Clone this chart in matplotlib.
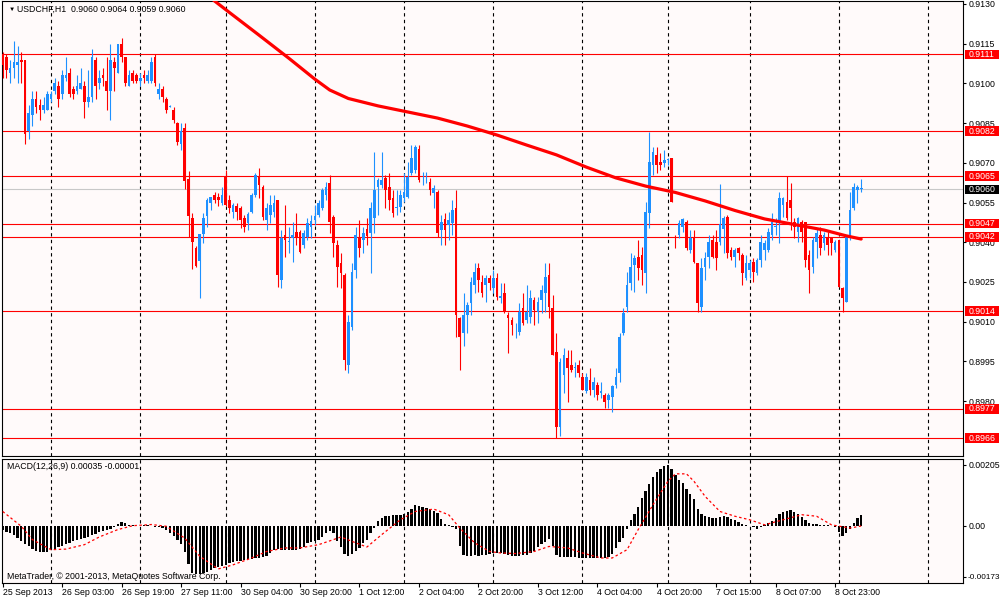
import numpy as np
import matplotlib.pyplot as plt
from matplotlib.patches import Rectangle
from matplotlib.transforms import blended_transform_factory

plt.rcParams['font.family'] = ['Liberation Sans', 'DejaVu Sans']

# hourly bars, index 0 = 26 Sep 2013 00:00; first visible bar is index -13
first_bar = -13

# prices in pips (0.9111 -> 9111)
opens = [
    9111, 9110, 9104, 9106, 9107, 9109, 9109, 9082, 9088, 9094, 9092, 9090, 9090,
    9094, 9097, 9099, 9096, 9102, 9104, 9098, 9097, 9098, 9099, 9093, 9095, 9109, 9100, 9103, 9101, 9097, 9108, 9104, 9115, 9110, 9099, 9104, 9103,
    9101, 9103, 9101, 9101, 9110, 9096, 9098, 9094, 9091, 9090, 9085, 9077, 9083, 9064, 9049, 9038, 9033, 9043, 9050, 9055, 9058, 9057, 9054.7,
    9065, 9056, 9051.5, 9053.5, 9052.8, 9049, 9047.2, 9051.5, 9057.8, 9065, 9061, 9048.4, 9050.3, 9051.5, 9056, 9025.7, 9042.7, 9040, 9041.5, 9044, 9044, 9039, 9042, 9045.6,
    9048.4, 9050.3, 9052.8, 9057.8, 9062.3, 9049.7, 9039, 9032, 9027.6, 8993.6, 9008.1, 9029.5, 9042.1, 9040.9, 9044.9, 9043.4, 9049, 9061, 9061.5, 9064.1, 9061, 9056.6, 9053, 9053.4,
    9056.6, 9057.2, 9066, 9067.3, 9075.1, 9064.5, 9064.1, 9062.9, 9058.5, 9059.1, 9044.6, 9048.6, 9046.5, 9047.2, 9052.8, 9011.3, 9005.6, 9012.5, 9016.9, 9023.8, 9030.1, 9025.1, 9023.8, 9026.4,
    9022.6, 9026.4, 9018.8, 9020.7, 9012.5, 9010.6, 9007.4, 9006.2, 9015, 9010.6, 9011.9, 9018.2, 9013.8, 9018.2, 9020.7, 9027.6, 9015, 8998.7, 8970.3, 8990, 8996.2, 8993.6, 8992.4, 8993.6,
    8989.2, 8983.6, 8988, 8984.2, 8986.1, 8983.2, 8982.3, 8980.4, 8981.7, 8986.1, 8990.5, 9005.6, 9015.7, 9024.5, 9031.4, 9034.6, 9035.2, 9028.3, 9051, 9069.2, 9073, 9070.4, 9069.8,
    9071, 9071.7, 9042.1, 9042.7, 9045.9, 9047.8, 9037.1, 9041.5, 9032, 9015.7, 9030.8, 9034.6, 9040.9, 9040.2, 9040, 9045, 9049.6, 9037, 9034.6, 9037.7, 9035.2, 9026.4,
    9029.5, 9032.7, 9028.3, 9033.3, 9037.1, 9037.1, 9042.7, 9045.6, 9047.8, 9054.1, 9055.3, 9055.9, 9047.8, 9044, 9047.8, 9047.8, 9035.2, 9030.8, 9040.2, 9042.7, 9039.6, 9041.5, 9041.5, 9037.1,
    9040.9, 9022.6, 9017.6, 9042.1, 9052.8, 9059.7, 9060,
]
highs = [
    9112, 9111, 9109, 9116, 9114, 9112, 9109, 9092, 9097, 9097, 9094, 9095, 9097,
    9097, 9102, 9101, 9105, 9110, 9106, 9099, 9103, 9106, 9101, 9105, 9113, 9110, 9105, 9106, 9110, 9115, 9110, 9115, 9117, 9110, 9105, 9105, 9104,
    9104, 9105, 9105, 9110, 9111, 9100, 9099, 9095, 9092, 9091, 9085.5, 9085, 9085, 9067, 9051, 9038.5, 9043, 9051, 9056.6, 9057.2, 9059, 9058.5, 9061,
    9067.3, 9057.8, 9054.7, 9054.7, 9053.5, 9050.3, 9051.5, 9058.5, 9066, 9068, 9061.6, 9054.7, 9057.8, 9057.8, 9056, 9044.6, 9054.1, 9045.9, 9047.8, 9051, 9044.6, 9044.6, 9049, 9050.3,
    9054, 9056, 9060.4, 9062.9, 9065.4, 9050.3, 9040.9, 9035.8, 9028.3, 9012.5, 9032, 9045.9, 9048.4, 9045.9, 9049, 9055.3, 9074.2, 9064.1, 9074.2, 9065.4, 9066, 9059.7, 9059.7, 9059.7,
    9066, 9070.4, 9076.7, 9076.7, 9076.7, 9066.7, 9066.7, 9064.1, 9061.6, 9059.7, 9050.3, 9050.9, 9051.5, 9056, 9059.7, 9011.9, 9020.7, 9017.6, 9027, 9032, 9032, 9027.6, 9027.6, 9027.6,
    9029.5, 9028.3, 9024.5, 9024.5, 9013.8, 9011.9, 9009.4, 9016.9, 9020.7, 9023.8, 9022, 9019.4, 9019.4, 9023.8, 9032, 9032, 9020.1, 9005.6, 8996.2, 9000, 8999.3, 8999.3, 8994.9, 8995.5,
    8990.5, 8990.5, 8992.4, 8989.2, 8987.3, 8987.3, 8982.9, 8982.9, 8986.1, 8992.4, 9005.6, 9015, 9028.9, 9035.8, 9035.2, 9040.9, 9038.3, 9055.3, 9081.8, 9076.1, 9076.1, 9073.6, 9074.8,
    9072, 9071.7, 9042.7, 9048.4, 9049, 9048.4, 9044.6, 9044.6, 9032, 9033.9, 9036.4, 9042.7, 9042.7, 9044.6, 9062, 9050, 9050.3, 9038.3, 9037.7, 9038.3, 9035.8, 9035.2,
    9033.3, 9033.9, 9033.9, 9042.7, 9040.9, 9045.3, 9050.9, 9049, 9059.1, 9057.2, 9065, 9062.3, 9049, 9049.6, 9048.4, 9047.8, 9037, 9042.1, 9045.3, 9045.9, 9044, 9044, 9042.1, 9040.9,
    9040.9, 9023.2, 9042.7, 9059.1, 9062.3, 9061.6, 9064,
]
lows = [
    9102, 9102, 9100, 9102, 9100, 9100, 9077, 9079, 9084, 9089, 9086, 9089, 9090,
    9093, 9096, 9091, 9094, 9101, 9095, 9094, 9096, 9098, 9087, 9091, 9093, 9094, 9098, 9099, 9090, 9086, 9097, 9104, 9108, 9099, 9099, 9100, 9100,
    9099, 9100, 9100, 9100, 9099, 9094, 9093, 9089, 9091, 9085, 9076.7, 9075, 9060, 9042, 9030, 9030.8, 9019, 9039.6, 9045.9, 9052.2, 9054.7, 9053.5, 9054,
    9053.5, 9050.9, 9049, 9048.4, 9045.3, 9044, 9044.6, 9051, 9057.2, 9056.6, 9048.4, 9044.6, 9047.2, 9049.7, 9023.2, 9022.6, 9034.6, 9035.8, 9032.7, 9039, 9036, 9037.7, 9041, 9041.5,
    9046.5, 9049.4, 9052.2, 9056, 9043.4, 9034.6, 9023.2, 9022.6, 8991.8, 8990.5, 9006.9, 9026.4, 9034.6, 9035.8, 9039, 9028.3, 9043.4, 9050.3, 9060.4, 9052.8, 9052.2, 9049.4, 9050.3, 9051.5,
    9055.3, 9056.6, 9065.4, 9066, 9062.9, 9061.6, 9062.3, 9057.8, 9052.8, 9042.1, 9039, 9039, 9040.9, 9042.7, 9004.3, 8991.8, 9000.6, 9005.6, 9012.5, 9020.7, 9021.3, 9019.4, 9017.6, 9022,
    9020.7, 9018.2, 9016.9, 9013.1, 8998.1, 9005, 9003.7, 9005, 9008.7, 9009.4, 9009.4, 9008.7, 9009.4, 9013.1, 9013.8, 9011.3, 8997.4, 8966, 8966.6, 8982.9, 8979.8, 8991.1, 8989.2, 8989.2,
    8984, 8983, 8982.3, 8981.7, 8980.4, 8981, 8977.3, 8977.3, 8976, 8984.8, 8987.3, 9005, 9013.8, 9022, 9021.3, 9025.7, 9023.8, 9020.7, 9045.3, 9065.4, 9066, 9067.3, 9068.6,
    9069, 9055.3, 9037.7, 9041.5, 9044, 9037.1, 9035.8, 9032, 9013.8, 9013.8, 9025.7, 9030.1, 9033.9, 9029.5, 9039, 9036, 9034, 9033.3, 9030.8, 9033.3, 9023.8, 9025.7,
    9026.4, 9025.1, 9027.6, 9030.8, 9033.3, 9036.4, 9040.9, 9042.7, 9039.6, 9049.7, 9048.4, 9044.6, 9041.5, 9040.2, 9040.2, 9030.8, 9020.7, 9028.3, 9033.9, 9035.2, 9037.1, 9035.2, 9035.2, 9036.4,
    9023.2, 9013.8, 9017.6, 9040.9, 9052.2, 9054.7, 9059,
]
closes = [
    9107, 9105, 9106, 9108, 9108, 9108, 9081, 9089, 9094, 9091, 9090, 9092, 9096,
    9096, 9100, 9094, 9103, 9103, 9096, 9096, 9099, 9100, 9093, 9095, 9110, 9099, 9102, 9102, 9097, 9109, 9106, 9115, 9110, 9100, 9103, 9101, 9101,
    9102, 9102, 9103, 9108, 9100, 9098, 9095, 9090, 9091.5, 9086, 9078, 9082, 9063, 9050, 9040, 9031, 9043, 9049, 9056, 9057, 9056, 9056, 9057.8,
    9054, 9052.8, 9054, 9051.5, 9048.4, 9045.9, 9050.5, 9057.8, 9065.4, 9061.6, 9049.7, 9052.8, 9054.1, 9054.7, 9027.6, 9041.5, 9040.9, 9040.5, 9042.7, 9042, 9036.4, 9043.4, 9047.2, 9048.2,
    9049.9, 9055, 9059.7, 9061, 9047.8, 9039.6, 9030.8, 9028.3, 8995.5, 9010, 9028.9, 9042.7, 9037.7, 9043.4, 9042.4, 9052.8, 9059.7, 9063.5, 9063.5, 9059.7, 9056, 9050.9, 9053.4, 9057.8,
    9059.1, 9064.8, 9071.7, 9076.1, 9063.5, 9064.8, 9064.4, 9059.7, 9060.4, 9043.4, 9047.8, 9044.6, 9048.4, 9052.2, 9012.5, 9004.3, 9012.5, 9016.3, 9025, 9028.9, 9025.7, 9020.7, 9026.4, 9024.5,
    9026.4, 9019.4, 9019.8, 9013.8, 9011.3, 9008.7, 9007.7, 9013.8, 9009.4, 9013.8, 9018.8, 9014.4, 9017.6, 9022, 9027, 9015.7, 8997.4, 8970.3, 8994.9, 8997.4, 8992.4, 8991.8, 8993, 8990.5,
    8984.2, 8989.2, 8984.2, 8987.3, 8982.3, 8983.6, 8979.8, 8982.3, 8985.5, 8989.2, 9004.3, 9013.1, 9023.8, 9030.8, 9033.9, 9030.1, 9029.5, 9051.5, 9070.4, 9074.2, 9069.2, 9069.2, 9071.1,
    9071.5, 9055.3, 9041.5, 9047.2, 9048.6, 9037.7, 9041.5, 9032.7, 9016.9, 9030.1, 9033.9, 9040.2, 9034.6, 9033.9, 9047, 9049, 9035.8, 9034.6, 9037, 9035.8, 9028.3, 9032,
    9032, 9028.9, 9033.3, 9040.2, 9039.6, 9044, 9047.8, 9046, 9056.6, 9056.6, 9049, 9052.8, 9045.9, 9049, 9044, 9033.3, 9029.5, 9040.9, 9043.4, 9037.7, 9042.7, 9039, 9039.6, 9040.2,
    9023.2, 9018.8, 9042.1, 9052.2, 9061, 9061, 9060,
]

# moving average line (bar index, pips)
ma_idx = [40, 48, 56, 64, 71, 75, 80, 88, 96, 104, 112, 120, 128, 136, 144, 152, 160, 168, 176, 184, 192, 200, 208, 214, 218]
ma_val = [9135.5, 9126.8, 9118.2, 9109.5, 9101.6, 9097.5, 9094.3, 9091.5, 9089.2, 9086.9, 9083.9, 9080.5, 9076.7,
          9073, 9068.4, 9064.3, 9061.2, 9058.8, 9055.6, 9052, 9048.8, 9046.7, 9044.6, 9042.4, 9041.2]

# MACD main histogram, units of 1e-5
macd = [
    -15, -20, -26, -33, -42, -50, -62, -70, -77, -84, -88, -90, -88,
    -82, -78, -73, -69, -63, -57, -52, -49, -46, -42, -37, -33, -27, -22, -19, -15, -11, -3, 6, 11, 8, 3, 1, 0,
    -1, 1, 1, -1, -3, -5, -9, -14, -24, -36, -48, -61, -90, -130, -158, -162, -162, -161, -156, -150, -144, -138, -135,
    -131, -126, -123, -120, -118, -116, -114, -112, -110, -108, -105, -101, -92, -83, -80, -81, -81, -81, -81, -81, -80, -72, -60, -55,
    -50, -48, -38, -25, -18, -25, -50, -72, -95, -103, -96, -84, -76, -60, -47, -25, -8, 15, 26, 32, 34, 35, 36, 37,
    40, 45, 55, 71, 67, 63, 60, 56, 50, 42, 22, 5, 1, -4, -10, -70, -98, -103, -101, -100, -101, -100, -98, -95,
    -92, -92, -92, -95, -100, -102, -103, -102, -100, -98, -93, -85, -72, -62, -55, -45, -70, -100, -104, -106, -106, -107, -107, -108,
    -109, -109, -109, -109, -109, -109, -109, -105, -95, -75, -55, -40, -10, 18, 40, 62, 92, 118, 140, 165, 180, 193, 200,
    206, 192, 172, 155, 143, 125, 108, 90, 58, 38, 33, 31, 27, 26, 30, 33, 29, 23, 19, 14, 7, 3,
    0, -6, -12, -6, 1, 8, 17, 25, 38, 45, 50, 52, 46, 40, 30, 20, 10, 7, 6, 4, 3, 2, 0, -5,
    -20, -34, -26, -10, 8, 25, 35,
]
# signal line (bar index, 1e-5)
sig_idx = [-13, -8, -5, 0, 4, 9, 13, 18, 22, 27, 31, 36, 40, 45, 49, 54, 58, 63, 67, 72, 76, 78, 81, 85, 89, 94, 98,
           103, 107, 110, 114, 118, 121, 125, 130, 134, 139, 143, 148, 151, 155, 158, 162, 166, 168, 171, 173, 176,
           180, 184, 188, 192, 197, 202, 206, 210, 215, 218]
sig_val = [48, -2, -47, -81, -79, -64, -38, -13, 0, 4, -2, -42, -103, -146, -132, -109, -87, -75, -75, -64, -47, -38, -53,
           -72, -30, 20, 48, 56, 37, -8, -58, -87, -92, -94, -87, -70, -75, -92, -109, -109, -81, -13, 71, 150, 175, 175,
           150, 99, 48, 32, 20, 3, 20, 37, 32, 3, -8, -1]

levels = [0.9111, 0.9082, 0.9065, 0.9047, 0.9042, 0.9014, 0.8977, 0.8966]
last_price = 0.9060
price_ticks = [0.8980, 0.8995, 0.9010, 0.9025, 0.9040, 0.9055, 0.9070, 0.9085, 0.9100, 0.9115, 0.9130]

day_starts = [0, 24, 47, 71, 95, 119, 143, 166, 188, 212, 236]
time_idx = [-13, 3, 19, 35, 51, 67, 83, 99, 115, 131, 147, 163, 179, 195, 211]
time_labels = ['25 Sep 2013', '26 Sep 03:00', '26 Sep 19:00', '27 Sep 11:00', '30 Sep 04:00', '30 Sep 20:00',
               '1 Oct 12:00', '2 Oct 04:00', '2 Oct 20:00', '3 Oct 12:00', '4 Oct 04:00', '4 Oct 20:00',
               '7 Oct 15:00', '8 Oct 07:00', '8 Oct 23:00']

BULL = '#1e90ff'
BEAR = '#ff0000'
BG = '#fffafa'
FS = 6.3
W, H = 1000, 600

fig = plt.figure(figsize=(10, 6), dpi=100, facecolor='white')


def px_axes(left, top, right, bottom):
    return fig.add_axes([left / W, 1 - bottom / H, (right - left) / W, (bottom - top) / H])


ax = px_axes(2, 1, 963, 456)
axm = px_axes(2, 458.5, 963, 583)
for a in (ax, axm):
    a.set_facecolor(BG)
    a.set_xlim(-13.19, 245.4)
    for s in a.spines.values():
        s.set_linewidth(0.8)
        s.set_color('black')
    for d in day_starts:
        a.axvline(d, color='black', lw=0.8, ls=(0, (3, 3)), zorder=1)

# candles
x = np.arange(first_bar, first_bar + len(closes))
o = np.array(opens) / 1e4
h = np.array(highs) / 1e4
l = np.array(lows) / 1e4
c = np.array(closes) / 1e4
col = np.where(c >= o, BULL, BEAR)
ax.vlines(x, l, h, colors=col, lw=0.8, zorder=3)
ax.bar(x, np.maximum(np.abs(c - o), 0.00003), bottom=np.minimum(o, c), width=0.72, color=col, lw=0, zorder=4)

for lv in levels:
    ax.axhline(lv, color='red', lw=0.8, zorder=2)
ax.axhline(last_price, color='#c8c8c8', lw=0.8, zorder=1.5)

ax.plot(ma_idx, np.array(ma_val) / 1e4, color='red', lw=2.3, zorder=5, solid_capstyle='round')

ax.set_ylim(0.895923, 0.913113)
ax.set_xticks([])
ax.yaxis.tick_right()
ax.set_yticks(price_ticks)
ax.set_yticklabels([f'{t:.4f}' for t in price_ticks])
ax.tick_params(axis='y', direction='out', length=2.5, width=0.8, pad=1.5, labelsize=FS)

# price tags on the right
tr = blended_transform_factory(fig.transFigure, ax.transData)
box_h = 0.00036
for lv, fc in [(v, 'red') for v in levels] + [(last_price, 'black')]:
    ax.add_patch(Rectangle((0.965, lv - box_h / 2), 0.034, box_h, transform=tr, facecolor=fc,
                           edgecolor='none', clip_on=False, zorder=10))
    ax.text(0.982, lv, f'{lv:.4f}', transform=tr, ha='center', va='center', color='white',
            fontsize=FS, clip_on=False, zorder=11)

# MACD panel
mv = np.array(macd) / 1e5
axm.bar(x, mv, width=0.62, color='black', lw=0, zorder=3)
axm.plot(sig_idx, np.array(sig_val) / 1e5, color='red', lw=0.9, ls=(0, (2, 2)), zorder=4)
axm.set_ylim(-0.001934, 0.002268)
axm.yaxis.tick_right()
axm.set_yticks([0.00205, 0.0, -0.00173])
axm.set_yticklabels(['0.00205', '0.00', '-0.00173'])
axm.tick_params(axis='y', direction='out', length=2.5, width=0.8, pad=1.2, labelsize=FS)
axm.get_yticklabels()[2].set_fontsize(5.9)
axm.set_xticks(time_idx)
axm.set_xticklabels(time_labels, ha='left')
axm.tick_params(axis='x', direction='out', length=3, width=0.8, pad=0.8, labelsize=FS)

fig.text(9 / W, 1 - 9.5 / H, '\u25bc', fontsize=4.5, va='center', ha='left')
fig.text(17 / W, 1 - 9.5 / H, 'USDCHF,H1  0.9060 0.9064 0.9059 0.9060', fontsize=FS, va='center', ha='left')
fig.text(7 / W, 1 - 466.5 / H, 'MACD(12,26,9) 0.00035 -0.00001', fontsize=FS, va='center', ha='left')
fig.text(7 / W, 1 - 576.5 / H, 'MetaTrader, \u00a9 2001-2013, MetaQuotes Software Corp.', fontsize=FS,
         va='center', ha='left', zorder=10)

fig.savefig('out.png', dpi=100, facecolor='white')
